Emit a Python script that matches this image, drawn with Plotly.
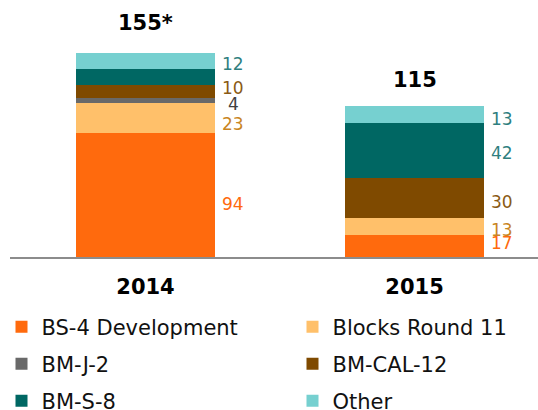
import plotly.graph_objects as go

# ---- data ----
years = ["2014", "2015"]
series_names = ["BS-4 Development", "Blocks Round 11", "BM-J-2", "BM-CAL-12", "BM-S-8", "Other"]
values_2014 = [94, 23, 4, 10, 12, 12]
values_2015 = [17, 13, 0, 30, 42, 13]
total_labels = ["155*", "115"]
show_2014 = [True, True, True, True, False, True]
show_2015 = [True, True, False, True, True, True]

# ---- styles ----
bar_colors = ["#FF6A0D", "#FFC06A", "#696969", "#7F4A00", "#006763", "#76D0D0"]
text_colors = ["#FF6A0D", "#C98522", "#404040", "#8A5A14", "#2F7F7F", "#2F7F7F"]
label_dy_2014 = [9, 5.5, 3.5, -3, 0, 3]
label_dy_2015 = [-3, 4, 0, 3.7, 3, 5]
total_dy = [30, 26]
FONT = "DejaVu Sans"
BAR_W = 0.517
# legend placement (pixels in the 538x410 page): text left edge, row centre
legend_text_x = [43, 334, 43, 334, 43, 334]
legend_row_y = [327, 327, 364, 364, 401, 401]
W, H = 538, 410

fig = go.Figure()
legend_keys = []
for i, name in enumerate(series_names):
    key = "legend" if i == 0 else "legend%d" % (i + 1)
    legend_keys.append(key)
    fig.add_trace(go.Bar(
        x=years, y=[values_2014[i], values_2015[i]], name=name,
        width=BAR_W, marker=dict(color=bar_colors[i], line=dict(width=0)),
        legend=key, hoverinfo="skip",
    ))

annotations = []
vals = [values_2014, values_2015]
shows = [show_2014, show_2015]
dys = [label_dy_2014, label_dy_2015]
for j, yr in enumerate(years):
    cum = 0
    for i in range(len(series_names)):
        v = vals[j][i]
        mid = cum + v / 2
        cum += v
        if shows[j][i]:
            annotations.append(dict(
                x=j + BAR_W / 2, y=mid, xref="x", yref="y", text=str(v),
                showarrow=False, xanchor="center", yanchor="middle",
                xshift=18, yshift=-dys[j][i],
                font=dict(family=FONT, size=17, color=text_colors[i]),
            ))
    annotations.append(dict(
        x=j, y=cum, xref="x", yref="y", text="<b>%s</b>" % total_labels[j],
        showarrow=False, xanchor="center", yanchor="middle", yshift=total_dy[j],
        font=dict(family=FONT, size=21, color="#000000"),
    ))

legends = {}
for i, key in enumerate(legend_keys):
    legends[key] = dict(
        orientation="h", xref="container", yref="container",
        x=(legend_text_x[i] - 41.5) / W, xanchor="left",
        y=1 - legend_row_y[i] / H, yanchor="middle",
        font=dict(family=FONT, size=21, color="#111111"),
        bgcolor="rgba(0,0,0,0)", borderwidth=0,
    )

fig.update_layout(
    width=W, height=H,
    margin=dict(l=10, r=0, t=0, b=153, pad=0, autoexpand=False),
    barmode="stack",
    paper_bgcolor="white", plot_bgcolor="white",
    showlegend=True,
    xaxis=dict(
        range=[-0.5037, 1.459], showgrid=False, zeroline=False,
        showline=True, linecolor="#8C8C8C", linewidth=2,
        ticks="", ticklabelstandoff=10,
        tickfont=dict(family=FONT, size=21, color="#000000"),
        tickprefix="<b>", ticksuffix="</b>", fixedrange=True,
    ),
    yaxis=dict(range=[0, 195.4], visible=False, fixedrange=True),
    annotations=annotations,
    **legends,
)

fig.write_html("out.html", config={"displayModeBar": False},
               post_script="document.body.style.margin='0';")
